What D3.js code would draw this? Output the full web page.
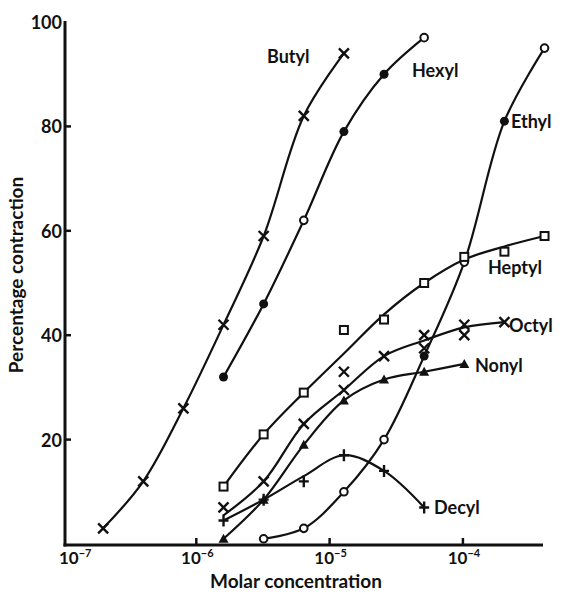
<!DOCTYPE html>
<html>
<head>
<meta charset="utf-8">
<script src="https://cdn.jsdelivr.net/npm/d3@7"></script>
<style>
  html, body { margin: 0; padding: 0; background: #fff; }
  svg text { font-family: Lato, "DejaVu Sans", sans-serif; font-weight: bold; fill: #111; }
</style>
</head>
<body>
<div id="chart"></div>
<script>
// Molar concentrations used in the experiment (doubling steps)
const concentrations = [2e-7, 4e-7, 8e-7, 1.6e-6, 3.2e-6, 6.4e-6, 1.28e-5, 2.56e-5, 5.12e-5, 1.024e-4, 2.048e-4, 4.096e-4];

const butylValues = [3, 12, 26, 42, 59, 82, 94];
const hexylValues = [32, 46, 62, 79, 90, 97];
const ethylValues = [1, 3, 10, 20, 36, 54, 81, 95];
const heptylValues = [11, 21, 29, 41, 43, 50, 55, 56, 59];
const heptylCurve = [11, 21, 29, 36.5, 44, 50, 54.5, 57, 59];
const octylValues = [7, 12, 23, 29.5, 36, 40, 42, 42.5];
const octylCurve = [5.5, 12, 23, 29.5, 36, 39, 41.5, 42.5];
const octylExtra = [[1.28e-5, 33], [5.12e-5, 37.5], [1.024e-4, 40]];
const nonylValues = [1, 8.5, 19, 27.5, 31.5, 33, 34.5];
const decylValues = [4.5, 8.5, 12, 17, 14, 7];
const decylCurve = [4.5, 8.5, 13, 17, 14, 7];

const yTicks = [20, 40, 60, 80, 100];
const xTicks = [1e-7, 1e-6, 1e-5, 1e-4];
const xTickExponents = ["7", "6", "5", "4"];

const width = 561;
const height = 595;

const x = d3.scaleLog().domain([1e-7, 4.2e-4]).range([63, 546]);
const y = d3.scaleLinear().domain([0, 100]).range([544, 22]);

function pairs(start, values) {
  return values.map((v, i) => [concentrations[start + i], v]);
}

const series = [
  { name: "Butyl", points: pairs(0, butylValues), shape: "x", label: [267, 63] },
  { name: "Hexyl", points: pairs(3, hexylValues), shape: "dot", open: [2, 5], label: [412, 77] },
  { name: "Ethyl", points: pairs(4, ethylValues), shape: "ring", filled: [4, 6], label: [511, 128] },
  { name: "Heptyl", points: pairs(3, heptylValues), curve: pairs(3, heptylCurve), shape: "square", label: [488, 274] },
  { name: "Octyl", points: pairs(3, octylValues), curve: pairs(3, octylCurve), extra: octylExtra, shape: "x", label: [509, 332] },
  { name: "Nonyl", points: pairs(3, nonylValues), shape: "triangle", label: [475, 372] },
  { name: "Decyl", points: pairs(3, decylValues), curve: pairs(3, decylCurve), shape: "plus", label: [434, 514] }
];

const svg = d3.select("#chart")
  .append("svg")
  .attr("width", width)
  .attr("height", height);

const line = d3.line()
  .x(d => x(d[0]))
  .y(d => y(d[1]))
  .curve(d3.curveCatmullRom.alpha(0.5));

// curves first, markers on top
series.forEach(s => {
  svg.append("path")
    .attr("d", line(s.curve || s.points))
    .attr("fill", "none")
    .attr("stroke", "#111")
    .attr("stroke-width", 2.2);
});

function drawMarker(g, shape, cx, cy) {
  if (shape === "x") {
    g.append("path")
      .attr("d", `M${cx - 5},${cy - 5}L${cx + 5},${cy + 5}M${cx - 5},${cy + 5}L${cx + 5},${cy - 5}`)
      .attr("stroke", "#111").attr("stroke-width", 2.4);
  } else if (shape === "plus") {
    g.append("path")
      .attr("d", `M${cx - 5},${cy}L${cx + 5},${cy}M${cx},${cy - 6}L${cx},${cy + 6}`)
      .attr("stroke", "#111").attr("stroke-width", 2.4);
  } else if (shape === "dot") {
    g.append("circle").attr("cx", cx).attr("cy", cy).attr("r", 4.5).attr("fill", "#111");
  } else if (shape === "ring") {
    g.append("circle").attr("cx", cx).attr("cy", cy).attr("r", 3.8)
      .attr("fill", "#fff").attr("stroke", "#111").attr("stroke-width", 2);
  } else if (shape === "square") {
    g.append("rect").attr("x", cx - 4).attr("y", cy - 4).attr("width", 8).attr("height", 8)
      .attr("fill", "#fff").attr("stroke", "#111").attr("stroke-width", 2);
  } else if (shape === "triangle") {
    g.append("path")
      .attr("d", `M${cx},${cy - 5}L${cx + 5},${cy + 4}L${cx - 5},${cy + 4}Z`)
      .attr("fill", "#111");
  }
}

const markers = svg.append("g").attr("class", "markers");

series.forEach(s => {
  s.points.forEach((p, i) => {
    let shape = s.shape;
    if (s.open && s.open.includes(i)) shape = "ring";
    if (s.filled && s.filled.includes(i)) shape = "dot";
    drawMarker(markers, shape, x(p[0]), y(p[1]));
  });
  (s.extra || []).forEach(p => drawMarker(markers, s.shape, x(p[0]), y(p[1])));

  svg.append("text")
    .attr("x", s.label[0])
    .attr("y", s.label[1])
    .attr("font-size", 18)
    .text(s.name);
});

// axes
const axisLeft = 65;
const axisBottom = 545;

svg.append("line")
  .attr("x1", axisLeft).attr("x2", axisLeft)
  .attr("y1", 21).attr("y2", axisBottom + 1.5)
  .attr("stroke", "#111").attr("stroke-width", 3);

svg.append("line")
  .attr("x1", axisLeft - 1.5).attr("x2", 543)
  .attr("y1", axisBottom).attr("y2", axisBottom)
  .attr("stroke", "#111").attr("stroke-width", 3);

yTicks.forEach(t => {
  if (t < 100) {
    svg.append("line")
      .attr("x1", axisLeft).attr("x2", axisLeft + 6)
      .attr("y1", y(t)).attr("y2", y(t))
      .attr("stroke", "#111").attr("stroke-width", 2.5);
  }
  svg.append("text")
    .attr("x", 62)
    .attr("y", y(t) + 7)
    .attr("text-anchor", "end")
    .attr("font-size", 18)
    .text(t);
});

xTicks.forEach((t, i) => {
  if (i > 0) {
    svg.append("line")
      .attr("x1", x(t)).attr("x2", x(t))
      .attr("y1", axisBottom).attr("y2", axisBottom - 7)
      .attr("stroke", "#111").attr("stroke-width", 2.5);
  }
  // first label sits right of the corner, the others are centred on their tick
  const label = svg.append("text")
    .attr("x", i === 0 ? 59 : x(t) + 1)
    .attr("y", 564)
    .attr("text-anchor", i === 0 ? "start" : "middle")
    .attr("font-size", 17);
  label.append("tspan").text("10");
  label.append("tspan")
    .attr("font-size", 11)
    .attr("dy", -7)
    .text("\u2212" + xTickExponents[i]);
});

svg.append("text")
  .attr("x", 296)
  .attr("y", 588)
  .attr("text-anchor", "middle")
  .attr("font-size", 19)
  .text("Molar concentration");

svg.append("text")
  .attr("transform", "translate(23,275) rotate(-90)")
  .attr("text-anchor", "middle")
  .attr("font-size", 19)
  .text("Percentage contraction");
</script>
</body>
</html>
